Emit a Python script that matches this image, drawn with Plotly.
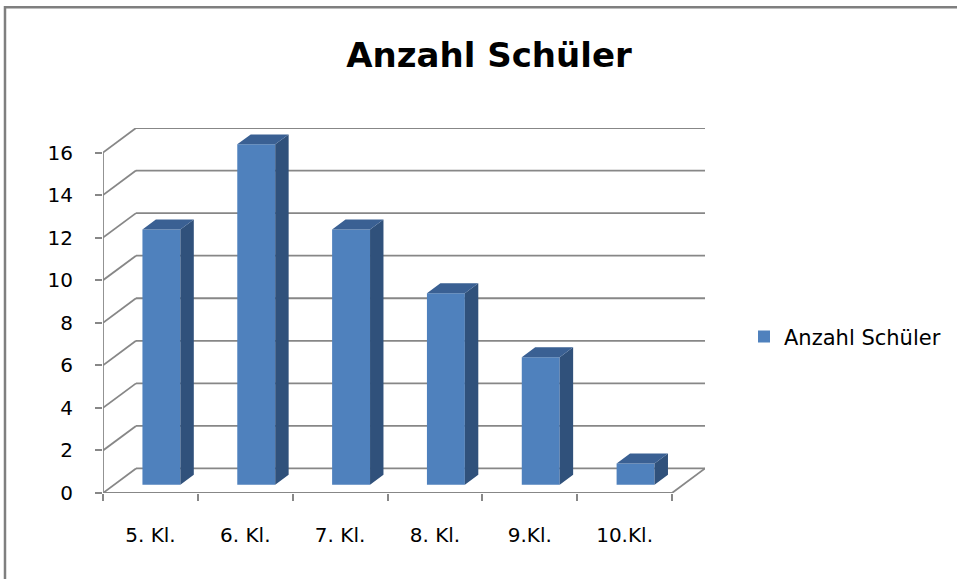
import plotly.graph_objects as go

# ---- data ----
categories = ["5. Kl.", "6. Kl.", "7. Kl.", "8. Kl.", "9.Kl.", "10.Kl."]
values = [12, 16, 12, 9, 6, 1]
series_name = "Anzahl Schüler"
title_text = "Anzahl Schüler"
y_ticks = [0, 2, 4, 6, 8, 10, 12, 14, 16]

# ---- pseudo 3D geometry (in axis units) ----
DX = 0.348      # depth offset in category units
DY = 1.153      # depth offset in value units
F0, F1 = 0.333, 0.74   # bar depth span (fraction of depth)
BW = 0.40       # bar width
FRONT = "#4F81BD"
SIDE = "#30517B"
TOP = "#3A6093"
GRID = "#878787"
FONT = "DejaVu Sans"

n = len(categories)
x_idx = list(range(n))
xmin, xmax = -0.5, n - 0.5
ymax = max(y_ticks)

fig = go.Figure()

# front faces
fig.add_trace(go.Bar(
    x=[i + F0 * DX for i in x_idx], y=values, base=[F0 * DY] * n,
    width=BW, marker=dict(color=FRONT, line=dict(width=0)),
    name=series_name, showlegend=True, hoverinfo="skip"))

# side & top faces
ddx, ddy = (F1 - F0) * DX, (F1 - F0) * DY
sx, sy, tx, ty = [], [], [], []
for i, v in zip(x_idx, values):
    xc = i + F0 * DX
    b = F0 * DY
    xl, xr = xc - BW / 2, xc + BW / 2
    sx += [xr, xr, xr + ddx, xr + ddx, xr, None]
    sy += [b, b + v, b + v + ddy, b + ddy, b, None]
    tx += [xl, xr, xr + ddx, xl + ddx, xl, None]
    ty += [b + v, b + v, b + v + ddy, b + v + ddy, b + v, None]
fig.add_trace(go.Scatter(x=sx, y=sy, fill="toself", fillcolor=SIDE, mode="none",
                         showlegend=False, hoverinfo="skip"))
fig.add_trace(go.Scatter(x=tx, y=ty, fill="toself", fillcolor=TOP, mode="none",
                         showlegend=False, hoverinfo="skip"))

# walls / gridlines (behind traces)
shapes = []
def seg(x0, y0, x1, y1, w=1.8):
    shapes.append(dict(type="line", xref="x", yref="y", x0=x0, y0=y0, x1=x1, y1=y1,
                       line=dict(color=GRID, width=w), layer="below"))
for t in y_ticks:
    seg(xmin + DX, t + DY, xmax + DX, t + DY)      # back wall
    seg(xmin, t, xmin + DX, t + DY)                 # side wall diagonal
seg(xmax, 0, xmax + DX, DY)                         # floor right edge
seg(xmin, 0, xmax, 0)                               # front floor edge / x axis
seg(xmin, 0, xmin, ymax)                            # front y axis

# outer chart frame
shapes.append(dict(type="rect", xref="paper", yref="paper",
                   x0=-0.1628, x1=2.0, y0=-1.0, y1=1.3306,
                   line=dict(color="#7f7f7f", width=2.5), layer="below"))

fig.update_layout(
    width=957, height=579,
    margin=dict(l=103, r=252, t=128, b=86, pad=0, autoexpand=False),
    paper_bgcolor="white", plot_bgcolor="white",
    shapes=shapes,
    title=dict(text=f"<b>{title_text}</b>", x=489 / 957, xref="container", xanchor="center",
               y=1 - 55 / 579, yref="container", yanchor="middle",
               font=dict(family=FONT, size=34, color="black")),
    legend=dict(x=(744 - 103) / 602, xanchor="left", y=0.428, yanchor="middle",
                font=dict(family=FONT, size=21, color="black"),
                bgcolor="rgba(0,0,0,0)"),
    xaxis=dict(range=[xmin, xmax + DX], tickvals=x_idx, ticktext=categories,
               showgrid=False, zeroline=False, showline=False, ticks="",
               tickfont=dict(family=FONT, size=20, color="black"),
               ticklabelstandoff=28, automargin=False,
               minor=dict(tickmode="array", tickvals=[i - 0.5 for i in range(n + 1)],
                          ticks="outside", ticklen=7, tickwidth=2, tickcolor=GRID),
               fixedrange=True),
    yaxis=dict(range=[0, ymax + DY], tickvals=y_ticks,
               showgrid=False, zeroline=False, showline=False,
               ticks="outside", ticklen=7, tickwidth=2, tickcolor=GRID,
               tickfont=dict(family=FONT, size=20, color="black"),
               ticklabelstandoff=18, automargin=False, fixedrange=True),
    showlegend=True,
)

fig.write_html(
    "out.html",
    config={"displayModeBar": False},
    post_script="document.body.style.margin='0';document.documentElement.style.overflow='hidden';document.body.style.overflow='hidden';",
)
